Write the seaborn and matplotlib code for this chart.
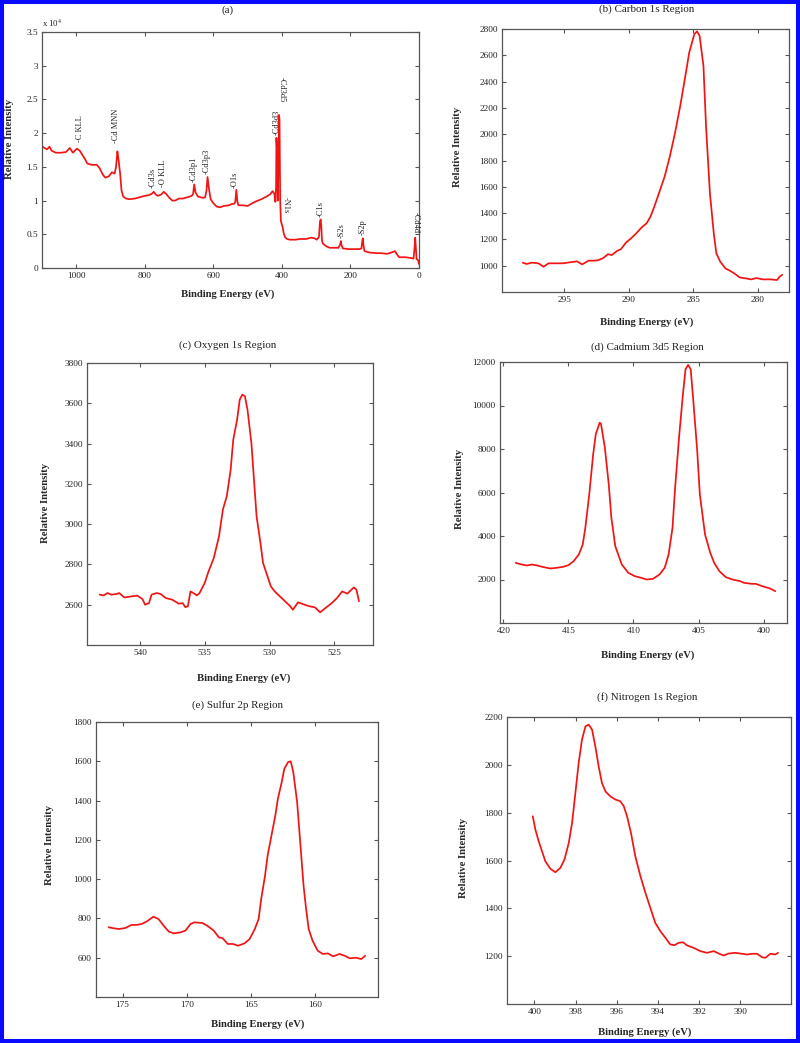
import numpy as np
import matplotlib
matplotlib.use("Agg")
import matplotlib.pyplot as plt
from matplotlib.patches import Rectangle
import seaborn as sns

# ---------------- data ----------------
# (a) survey spectrum, intensity in units of 10^4
survey_be = [1100, 1093, 1085, 1078, 1072, 1060, 1045, 1030, 1019, 1010, 1004, 998, 990, 985,
             975, 968, 955, 940, 932, 922, 915, 905, 896, 888, 884, 880, 877, 872, 868, 863,
             855, 845, 829, 815, 800, 789, 780, 774, 768, 762, 752, 745, 738, 730, 720, 712,
             700, 689, 675, 663, 659, 656, 652, 645, 630, 624, 620, 617, 613, 608, 600, 590,
             580, 570, 555, 545, 540, 536, 533, 530, 527, 515, 500, 490, 475, 460, 445, 435,
             427, 422, 419, 417, 416, 414, 412, 410, 408.5, 407, 405, 403, 400, 398, 395, 391,
             385, 377, 360, 348, 330, 314, 305, 298, 292, 289, 287, 285, 283, 280, 270, 260,
             245, 235, 230, 228, 226, 222, 205, 192, 175, 168, 166, 164, 162, 159, 145, 124,
             110, 94, 80, 70, 64, 58, 40, 26, 16, 13, 11, 9, 7, 3, 0]
survey_int = [1.81, 1.78, 1.76, 1.80, 1.74, 1.71, 1.71, 1.72, 1.78, 1.71, 1.74, 1.77, 1.74, 1.70,
              1.62, 1.55, 1.53, 1.53, 1.48, 1.38, 1.34, 1.36, 1.42, 1.40, 1.50, 1.73, 1.62, 1.40, 1.15, 1.06,
              1.03, 1.02, 1.03, 1.05, 1.07, 1.08, 1.10, 1.13, 1.09, 1.07, 1.09, 1.13, 1.10, 1.05, 1.00, 1.00,
              1.03, 1.03, 1.05, 1.07, 1.10, 1.24, 1.12, 1.06, 1.04, 1.05, 1.15, 1.35, 1.18, 1.02, 0.96, 0.91,
              0.90, 0.92, 0.93, 0.95, 0.95, 0.98, 1.16, 0.99, 0.93, 0.93, 0.92, 0.95, 0.99, 1.02, 1.06, 1.09,
              1.14, 1.10, 0.98, 1.20, 1.93, 1.70, 1.00, 1.60, 2.27, 2.20, 1.00, 0.70, 0.64, 0.61, 0.52, 0.46,
              0.43, 0.42, 0.42, 0.43, 0.43, 0.45, 0.44, 0.42, 0.46, 0.68, 0.72, 0.62, 0.40, 0.36, 0.32, 0.30,
              0.30, 0.30, 0.35, 0.40, 0.34, 0.29, 0.28, 0.28, 0.28, 0.29, 0.38, 0.44, 0.34, 0.25, 0.23, 0.22,
              0.22, 0.21, 0.23, 0.25, 0.20, 0.16, 0.16, 0.15, 0.14, 0.30, 0.45, 0.30, 0.13, 0.12, 0.06]

survey_labels = ["-C KLL", "-Cd MNN", "-Cd3s", "-O KLL", "-Cd3p1", "-Cd3p3", "-O1s",
                 "-Cd3d3", "-Cd3d5", "-N1s", "-C1s", "-S2s", "-S2p", "-Cd4d"]
survey_label_be = [990, 883, 776, 747, 656, 620, 537, 416, 401, 389, 287, 226, 163, 10]
survey_label_int = [1.87, 1.85, 1.18, 1.20, 1.28, 1.40, 1.18, 1.97, 2.84, 1.06, 0.76, 0.44, 0.49, 0.83]
survey_label_rot = [90, 90, 90, 90, 90, 90, 90, 90, 270, 270, 90, 90, 90, 270]

# (b) Carbon 1s
c1s_be = [298.2, 297.9, 297.5, 297.1, 296.9, 296.6, 296.2, 295.6, 295.1, 294.6,
          294.0, 293.6, 293.1, 292.8, 292.4, 292.0, 291.6, 291.3, 290.9, 290.6,
          290.2, 289.8, 289.4, 289.0, 288.6, 288.3, 288.0, 287.6, 287.2, 286.8,
          286.4, 286.0, 285.6, 285.3, 284.9, 284.7, 284.5, 284.2, 284.0, 283.7,
          283.4, 283.2, 282.9, 282.5, 282.1, 281.8, 281.4, 280.9, 280.5, 280.1,
          279.6, 279.0, 278.5, 278.3, 278.1]
c1s_int = [1023, 1013, 1023, 1020, 1013, 992, 1018, 1018, 1018, 1025,
           1033, 1010, 1038, 1038, 1041, 1056, 1087, 1081, 1112, 1125,
           1176, 1209, 1247, 1290, 1323, 1374, 1451, 1565, 1680, 1833,
           2011, 2214, 2444, 2622, 2762, 2782, 2749, 2520, 2062, 1553,
           1247, 1094, 1031, 980, 959, 941, 911, 903, 896, 906,
           896, 896, 891, 916, 931]

# (c) Oxygen 1s
o1s_be = [543.1, 542.8, 542.5, 542.2, 541.8, 541.6, 541.2, 540.7, 540.2, 539.8,
          539.6, 539.3, 539.1, 538.7, 538.4, 538.0, 537.5, 537.0, 536.7, 536.5,
          536.3, 536.1, 535.8, 535.6, 535.4, 535.0, 534.7, 534.3, 533.9, 533.6,
          533.3, 533.0, 532.8, 532.5, 532.3, 532.1, 531.9, 531.7, 531.4, 531.2,
          531.0, 530.7, 530.5, 530.2, 529.9, 529.6, 529.2, 528.8, 528.4, 528.2,
          527.8, 527.3, 526.9, 526.5, 526.1, 525.7, 525.2, 524.8, 524.4, 524.0,
          523.5, 523.3, 523.1]
o1s_int = [2650, 2646, 2658, 2650, 2653, 2658, 2636, 2641, 2645, 2628,
           2600, 2608, 2650, 2658, 2653, 2633, 2625, 2605, 2608, 2588,
           2592, 2666, 2655, 2646, 2658, 2708, 2766, 2832, 2939, 3072,
           3138, 3270, 3419, 3519, 3618, 3643, 3635, 3568, 3403, 3221,
           3039, 2906, 2807, 2749, 2691, 2666, 2641, 2617, 2592, 2575,
           2612, 2600, 2592, 2587, 2562, 2583, 2608, 2633, 2666, 2655,
           2686, 2675, 2617]

# (d) Cadmium 3d
cd3d_be = [419.05, 418.6, 418.2, 417.8, 417.4, 416.9, 416.4, 415.9, 415.4, 415.0,
           414.6, 414.2, 413.9, 413.7, 413.4, 413.1, 412.9, 412.6, 412.5, 412.2,
           411.9, 411.7, 411.4, 410.9, 410.4, 409.9, 409.4, 409.0, 408.5, 408.0,
           407.6, 407.3, 407.0, 406.8, 406.5, 406.2, 406.0, 405.8, 405.6, 405.4,
           405.1, 404.9, 404.5, 404.1, 403.8, 403.4, 402.9, 402.4, 401.8, 401.5,
           400.9, 400.6, 400.1, 399.5, 399.1]
cd3d_int = [2767, 2690, 2644, 2690, 2644, 2568, 2506, 2537, 2583, 2660,
            2844, 3150, 3611, 4378, 5912, 7753, 8673, 9210, 9164, 8060,
            6372, 4838, 3534, 2690, 2307, 2153, 2077, 2000, 2031, 2230,
            2537, 3150, 4378, 6219, 8520, 10514, 11664, 11864, 11664, 10207,
            7906, 5912, 4071, 3227, 2767, 2384, 2107, 2000, 1923, 1847,
            1800, 1800, 1693, 1586, 1463]

# (e) Sulfur 2p
s2p_be = [176.09, 175.7, 175.3, 174.8, 174.3, 173.9, 173.5, 173.1, 172.6, 172.2,
          171.8, 171.4, 171.0, 170.5, 170.1, 169.7, 169.4, 168.8, 168.4, 167.9,
          167.5, 167.2, 166.8, 166.4, 166.0, 165.5, 165.1, 164.7, 164.4, 164.2,
          163.9, 163.7, 163.4, 163.1, 162.9, 162.6, 162.4, 162.1, 161.9, 161.7,
          161.4, 161.1, 160.9, 160.7, 160.5, 160.2, 159.8, 159.4, 159.0, 158.6,
          158.1, 157.7, 157.3, 156.8, 156.4, 156.1]
s2p_int = [755, 750, 746, 751, 767, 767, 772, 785, 809, 797,
           763, 733, 724, 729, 738, 772, 780, 777, 763, 738,
           704, 699, 670, 670, 661, 673, 695, 746, 797, 899,
           1018, 1120, 1222, 1324, 1409, 1494, 1562, 1596, 1600, 1545,
           1392, 1137, 967, 848, 746, 687, 636, 619, 622, 607,
           619, 610, 597, 600, 593, 610]

# (f) Nitrogen 1s
n1s_be = [400.08, 399.95, 399.79, 399.63, 399.47, 399.22, 398.98, 398.74, 398.54, 398.33,
          398.17, 398.01, 397.85, 397.69, 397.52, 397.36, 397.20, 397.04, 396.88, 396.72,
          396.55, 396.31, 396.07, 395.83, 395.66, 395.50, 395.31, 395.10, 394.85, 394.61,
          394.37, 394.13, 393.88, 393.64, 393.40, 393.20, 392.99, 392.78, 392.59, 392.27,
          391.94, 391.62, 391.29, 391.05, 390.81, 390.57, 390.24, 389.92, 389.68, 389.43,
          389.19, 388.95, 388.79, 388.54, 388.30, 388.17]
n1s_int = [1785, 1729, 1680, 1639, 1597, 1565, 1551, 1569, 1604, 1674,
           1757, 1882, 2008, 2105, 2161, 2168, 2147, 2077, 1994, 1924,
           1889, 1868, 1855, 1848, 1827, 1785, 1715, 1618, 1534, 1465,
           1402, 1339, 1304, 1277, 1249, 1246, 1256, 1258, 1245, 1235,
           1221, 1214, 1221, 1211, 1203, 1211, 1214, 1210, 1207, 1210,
           1210, 1196, 1193, 1210, 1207, 1214]

# ---------------- style ----------------
sns.set_theme(style="ticks")
plt.rcParams["font.family"] = ["Liberation Serif", "DejaVu Serif"]
plt.rcParams["mathtext.fontset"] = "stix"
plt.rcParams.update({
    "xtick.direction": "in", "ytick.direction": "in",
    "xtick.top": True, "ytick.right": True,
    "xtick.major.size": 3, "ytick.major.size": 3,
    "xtick.major.width": 0.8, "ytick.major.width": 0.8,
    "axes.edgecolor": "#555555", "axes.linewidth": 0.9,
    "xtick.color": "#555555", "ytick.color": "#555555",
    "xtick.labelcolor": "#222222", "ytick.labelcolor": "#222222",
})

W, H = 800, 1043
fig = plt.figure(figsize=(W / 100, H / 100), dpi=100)
fig.patch.set_facecolor("white")

RED = "#f01414"
TICK_FS = 6.7
LAB_FS = 7.7
TITLE_FS = 7.9


def fx(px):
    return px / W


def fy(py):
    return 1 - py / H


def make_panel(box, be, inten, xlim, ylim, xticks, yticks, title, title_xy,
               xlab_xy, ylab_xy, yticklabels=None):
    l, t, r, b = box
    ax = fig.add_axes([fx(l), fy(b), fx(r - l), (b - t) / H])
    sns.lineplot(x=be, y=inten, ax=ax, color=RED, lw=1.25, sort=False, estimator=None)
    ax.set_xlim(*xlim)
    ax.set_ylim(*ylim)
    ax.set_xticks(xticks)
    ax.set_yticks(yticks)
    if yticklabels is not None:
        ax.set_yticklabels(yticklabels)
    ax.tick_params(labelsize=TICK_FS, pad=3)
    for s in ax.spines.values():
        s.set_visible(True)
    ax.set_xlabel("Binding Energy (eV)", fontsize=LAB_FS, fontweight="bold")
    ax.set_ylabel("Relative Intensity", fontsize=LAB_FS, fontweight="bold")
    ax.xaxis.set_label_coords(fx(xlab_xy[0]), fy(xlab_xy[1]), transform=fig.transFigure)
    ax.yaxis.set_label_coords(fx(ylab_xy[0]), fy(ylab_xy[1]), transform=fig.transFigure)
    ax.xaxis.label.set_va("center")
    ax.yaxis.label.set_va("center")
    fig.text(fx(title_xy[0]), fy(title_xy[1]), title, fontsize=TITLE_FS,
             ha="center", va="center", color="#222222")
    return ax


# (a) survey
ax_a = make_panel((42, 32, 419, 268), survey_be, survey_int, (1100, 0), (0, 3.5),
                  [1000, 800, 600, 400, 200, 0], [0, 0.5, 1, 1.5, 2, 2.5, 3, 3.5],
                  "(a)", (228, 10), (228, 294), (10, 139),
                  yticklabels=["0", "0.5", "1", "1.5", "2", "2.5", "3", "3.5"])
for lab, xb, yb, rot in zip(survey_labels, survey_label_be, survey_label_int, survey_label_rot):
    ax_a.text(xb, yb, lab, rotation=rot, fontsize=6, ha="center",
              va="bottom" if rot == 90 else "top", color="#222222",
              rotation_mode="default")
fig.text(fx(42), fy(23), r"x 10$^{4}$", fontsize=6.3, ha="left", va="center", color="#222222")

# (b) carbon
make_panel((502, 29, 789, 292), c1s_be, c1s_int, (299.81, 277.57), (800, 2800),
           [295, 290, 285, 280], list(range(1000, 2801, 200)),
           "(b) Carbon 1s Region", (647, 9), (647, 322), (458, 147))

# (c) oxygen
make_panel((87, 363, 373, 645), o1s_be, o1s_int, (544.08, 522.02), (2400, 3800),
           [540, 535, 530, 525], list(range(2600, 3801, 200)),
           "(c) Oxygen 1s Region", (228, 345), (244, 678), (45, 503))

# (d) cadmium
make_panel((500, 362, 787, 623), cd3d_be, cd3d_int, (420.26, 398.2), (0, 12000),
           [420, 415, 410, 405, 400], list(range(2000, 12001, 2000)),
           "(d) Cadmium 3d5 Region", (647, 347), (648, 655), (459, 489))

# (e) sulfur
make_panel((96, 722, 378, 997), s2p_be, s2p_int, (177.07, 155.10), (400, 1800),
           [175, 170, 165, 160], list(range(600, 1801, 200)),
           "(e) Sulfur 2p Region", (237, 705), (258, 1024), (50, 845))

# (f) nitrogen
make_panel((507, 717, 791, 1004), n1s_be, n1s_int, (401.33, 387.54), (1000, 2200),
           [400, 398, 396, 394, 392, 390], list(range(1200, 2201, 200)),
           "(f) Nitrogen 1s Region", (647, 697), (645, 1032), (463, 858))

# blue frame around the figure
fig.patches.append(Rectangle((0, 0), 1, 1, transform=fig.transFigure, fill=False,
                             edgecolor="#0a0aff", linewidth=5.8, zorder=100))

fig.savefig("out.png", dpi=100, facecolor="white")
